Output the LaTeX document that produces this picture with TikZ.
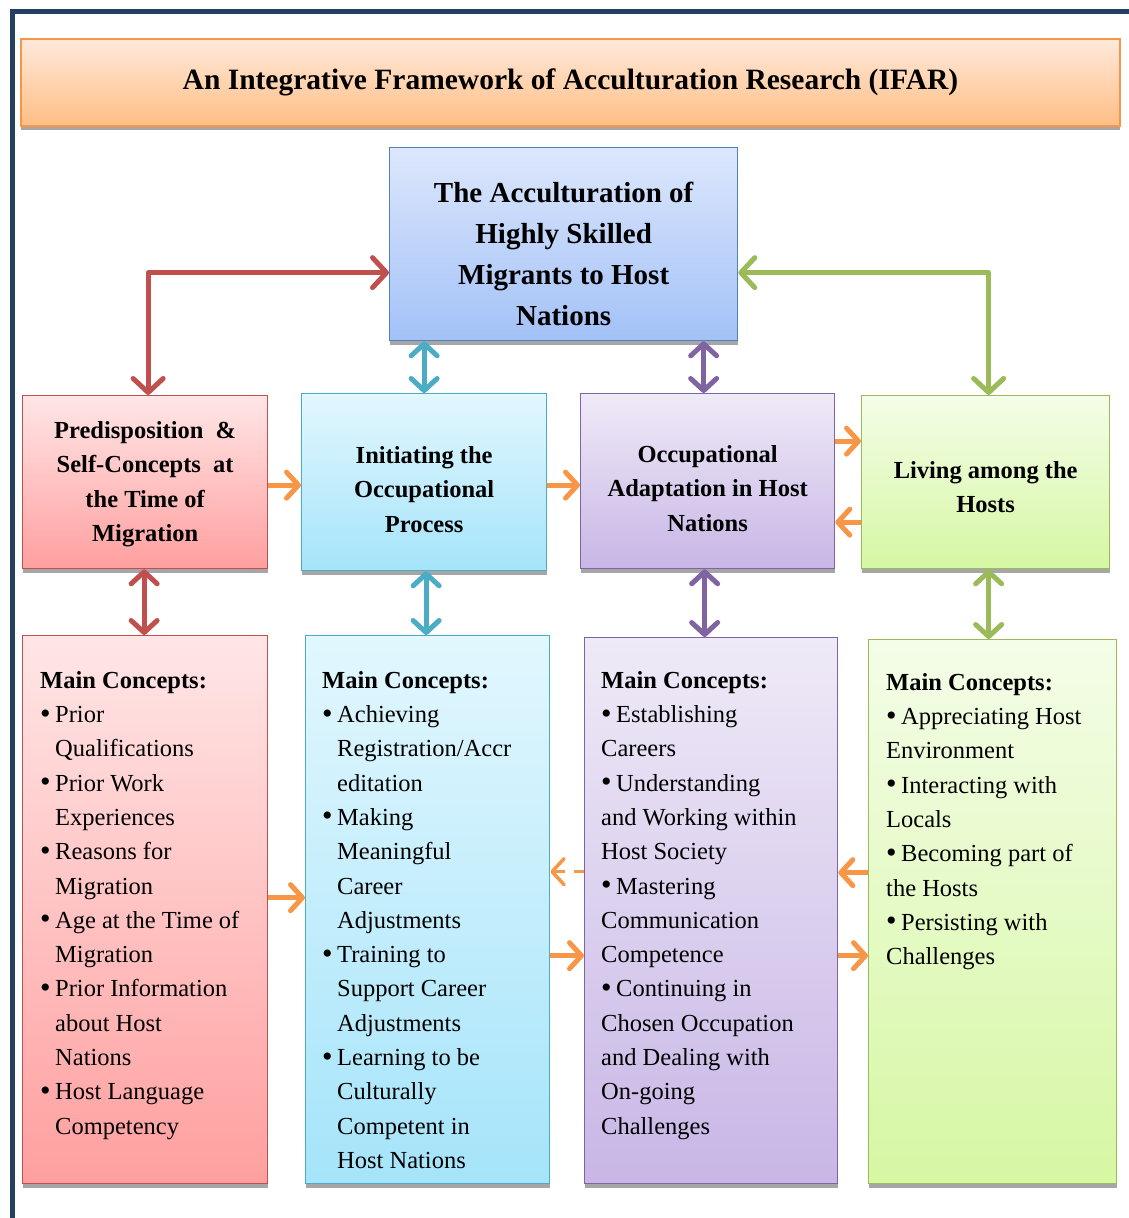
\documentclass[tikz,border=0pt]{standalone}
\usepackage{fontspec}
\setmainfont{Liberation Serif}
\usetikzlibrary{arrows.meta,shadows,calc}
\definecolor{navy}{HTML}{243F60}
\definecolor{orB}{HTML}{F79646}
\definecolor{orT}{HTML}{FFE9DB}
\definecolor{orBt}{HTML}{FFBE84}
\definecolor{blB}{HTML}{4F81BD}
\definecolor{blT}{HTML}{DCE7FC}
\definecolor{blBt}{HTML}{A3C1F7}
\definecolor{rdB}{HTML}{C0504D}
\definecolor{rdT}{HTML}{FFE6E6}
\definecolor{rdBt}{HTML}{FF9F9F}
\definecolor{cyB}{HTML}{4BACC6}
\definecolor{cyT}{HTML}{E2F7FE}
\definecolor{cyBt}{HTML}{A5E4FA}
\definecolor{puB}{HTML}{8064A2}
\definecolor{puT}{HTML}{EFEAF7}
\definecolor{puBt}{HTML}{C8B6E6}
\definecolor{grB}{HTML}{9BBB59}
\definecolor{grT}{HTML}{F4FDE8}
\definecolor{grBt}{HTML}{D6F7A3}
\newcommand{\ttlfont}{\fontsize{29.5}{34}\selectfont\bfseries}
\newcommand{\topfont}{\fontsize{29}{41}\selectfont\bfseries}
\newcommand{\midfont}{\fontsize{24.5}{34.5}\selectfont\bfseries}
\newcommand{\lstfont}{\fontsize{24.5}{34.3}\selectfont}
\newcommand{\bul}{\makebox[15pt][l]{\raisebox{-0.5pt}{\fontsize{30}{30}\selectfont\textbullet}}}
\newcommand{\ind}{\hspace*{15pt}}
\begin{document}
\begin{tikzpicture}[x=1pt,y=-1pt,
  box/.style={draw, line width=1.3pt, anchor=north west, inner sep=0pt,
    drop shadow={shadow xshift=0pt, shadow yshift=-4pt, opacity=0.35, fill=black}},
  titlebox/.style={box, draw=orB, line width=2pt, top color=orT, bottom color=orBt},
  bluebox/.style={box, draw=blB, top color=blT, bottom color=blBt},
  redbox/.style={box, draw=rdB, top color=rdT, bottom color=rdBt},
  cyanbox/.style={box, draw=cyB, top color=cyT, bottom color=cyBt},
  purbox/.style={box, draw=puB, top color=puT, bottom color=puBt},
  grnbox/.style={box, draw=grB, top color=grT, bottom color=grBt},
  midtxt/.style={align=center, font=\midfont, inner sep=0pt},
  lsttxt/.style={align=left, font=\lstfont, inner sep=0pt, anchor=north west},
  bigarr/.style={line width=5pt, line cap=round, line join=round,
    {Straight Barb[length=14pt,width=30pt,round]}-{Straight Barb[length=14pt,width=30pt,round]}},
  vdbl/.style={line width=5pt,
    {Straight Barb[length=12pt,width=26pt,round]}-{Straight Barb[length=12pt,width=26pt,round]}},
  orarr/.style={draw=orB, line width=5pt, -{Straight Barb[length=12pt,width=26pt,round]}},
]
\useasboundingbox (0,0) rectangle (1129,1218);
% outer frame
\draw[navy, line width=4.5pt] (12.5,1218) -- (12.5,11.5) -- (1129,11.5);

% title
\node[titlebox, minimum width=1099pt, minimum height=87pt, font=\ttlfont] (title) at (20,38)
  {An Integrative Framework of Acculturation Research (IFAR)};

% top box
\node[bluebox, minimum width=348pt, minimum height=193pt] (top) at (389,147) {};
\node[align=center, font=\topfont, inner sep=0pt] (toptxt) at ([yshift=-10pt]top.center)
  {The Acculturation of\\Highly Skilled\\Migrants to Host\\Nations};

% row 2
\node[redbox, minimum width=245pt, minimum height=173pt] (r2) at (22,395) {};
\node[cyanbox, minimum width=245pt, minimum height=177pt] (c2) at (301,393) {};
\node[purbox, minimum width=254pt, minimum height=175pt] (p2) at (580,393) {};
\node[grnbox, minimum width=248pt, minimum height=173pt] (g2) at (861,395) {};
\node[midtxt] (r2t) at ([yshift=-2pt]r2.center) {Predisposition \ \&\\Self-Concepts \ at\\the Time of\\Migration};
\node[midtxt] (c2t) at ([yshift=-7pt]c2.center) {Initiating the\\Occupational\\Process};
\node[midtxt] (p2t) at ([yshift=-7pt]p2.center) {Occupational\\Adaptation in Host\\Nations};
\node[midtxt] (g2t) at ([yshift=-5pt]g2.center) {Living among the\\Hosts};

% row 3
\node[redbox, minimum width=245pt, minimum height=548pt] (r3) at (22,635) {};
\node[cyanbox, minimum width=244pt, minimum height=548pt] (c3) at (305,635) {};
\node[purbox, minimum width=253pt, minimum height=546pt] (p3) at (584,637) {};
\node[grnbox, minimum width=248pt, minimum height=544pt] (g3) at (868,639) {};

\node[lsttxt] (r3t) at ([xshift=18pt,yshift=-36pt]r3.north west)
  {\textbf{Main Concepts:}\\
   \bul Prior\\\ind Qualifications\\
   \bul Prior Work\\\ind Experiences\\
   \bul Reasons for\\\ind Migration\\
   \bul Age at the Time of\\\ind Migration\\
   \bul Prior Information\\\ind about Host\\\ind Nations\\
   \bul Host Language\\\ind Competency};
\node[lsttxt] (c3t) at ([xshift=17pt,yshift=-36pt]c3.north west)
  {\textbf{Main Concepts:}\\
   \bul Achieving\\\ind Registration/Accr\\\ind editation\\
   \bul Making\\\ind Meaningful\\\ind Career\\\ind Adjustments\\
   \bul Training to\\\ind Support Career\\\ind Adjustments\\
   \bul Learning to be\\\ind Culturally\\\ind Competent in\\\ind Host Nations};
\node[lsttxt] (p3t) at ([xshift=17pt,yshift=-34pt]p3.north west)
  {\textbf{Main Concepts:}\\
   \bul Establishing\\Careers\\
   \bul Understanding\\and Working within\\Host Society\\
   \bul Mastering\\Communication\\Competence\\
   \bul Continuing in\\Chosen Occupation\\and Dealing with\\On-going\\Challenges};
\node[lsttxt] (g3t) at ([xshift=18pt,yshift=-34pt]g3.north west)
  {\textbf{Main Concepts:}\\
   \bul Appreciating Host\\Environment\\
   \bul Interacting with\\Locals\\
   \bul Becoming part of\\the Hosts\\
   \bul Persisting with\\Challenges};

% elbow connectors to the top box
\coordinate (tl) at ([yshift=-28.5pt]top.west);
\coordinate (tr) at ([yshift=-28.5pt]top.east);
\draw[bigarr, rdB] ([xshift=3pt]r2.north) |- (tl);
\draw[bigarr, grB] ([xshift=3pt]g2.north) |- (tr);

% vertical double arrows
\draw[vdbl, cyB] (c2.north |- top.south) -- (c2.north);
\draw[vdbl, puB] ([xshift=-4pt]p2.north |- top.south) -- ([xshift=-4pt]p2.north);
\draw[vdbl, rdB] ([xshift=-1pt]r2.south) -- ([xshift=-1pt]r2.south |- r3.north);
\draw[vdbl, cyB] ([xshift=2pt]c2.south) -- ([xshift=2pt]c2.south |- c3.north);
\draw[vdbl, puB] ([xshift=-3pt]p2.south) -- ([xshift=-3pt]p2.south |- p3.north);
\draw[vdbl, grB] ([xshift=3pt]g2.south) -- ([xshift=3pt]g2.south |- g3.north);

% orange arrows, row 2
\draw[orarr] ([yshift=-3pt]r2.east) -- ([yshift=-3pt]r2.east -| c2.west);
\draw[orarr] ([yshift=-3pt]c2.east) -- ([yshift=-3pt]c2.east -| p2.west);
\draw[orarr] ([yshift=40pt]p2.east) -- ([yshift=40pt]p2.east -| g2.west);
\draw[orarr] ([yshift=-40pt]g2.west) -- ([yshift=-40pt]g2.west -| p2.east);

% orange arrows, row 3
\draw[orarr] ([yshift=12pt]r3.east) -- ([yshift=12pt]r3.east -| c3.west);
\draw[orarr, line width=3.5pt, dash pattern=on 10pt off 9pt] ([yshift=39pt]p3.west) -- ([yshift=39pt]p3.west -| c3.east);
\draw[orarr] ([yshift=-46pt]c3.east) -- ([yshift=-46pt]c3.east -| p3.west);
\draw[orarr] ([yshift=39pt]g3.west) -- ([yshift=39pt]g3.west -| p3.east);
\draw[orarr] ([yshift=-45pt]p3.east) -- ([yshift=-45pt]p3.east -| g3.west);
\end{tikzpicture}
\end{document}
